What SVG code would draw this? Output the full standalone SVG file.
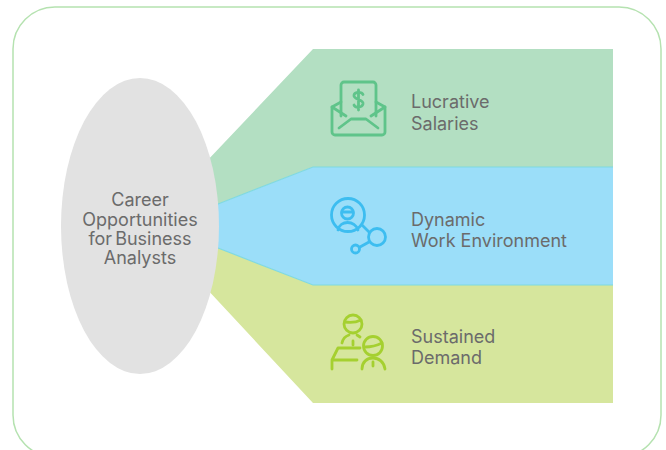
<svg xmlns="http://www.w3.org/2000/svg" width="666" height="450" viewBox="0 0 666 450">
<style>
text{font-family:"Inter","Liberation Sans",sans-serif;font-size:18px;fill:#6b6b6b}
.i{fill:none;stroke-width:2.8;stroke-linecap:round;stroke-linejoin:round}
.g{stroke:#5fc48a}.b{stroke:#3dbdf0}.l{stroke:#a5d030}
</style>
<rect width="666" height="450" fill="#fff"/>
<rect id="frame" x="13" y="7" width="648" height="450" rx="42" fill="#fff" stroke="#b5e2b0" stroke-width="1.5"/>
<g id="connectors">
<polygon points="205,163 313,49 613,49 613,167 313,167 218,204" fill="#b3dfc2"/>
<polygon points="205,287 218,248 313,285 613,285 613,403 313,403" fill="#d6e69d"/>
<polygon points="218,204 313,167 613,167 613,285 313,285 218,248" fill="#9bdef9"/>
<path d="M218 204L313 167H613M218 248L313 285H613" fill="none" stroke="#7fd9e0" stroke-width="1.200"/>
</g>
<g id="center">
<ellipse cx="140" cy="226" rx="79" ry="148" fill="#e2e2e2"/>
<text x="140" y="206" text-anchor="middle">Career</text>
<text x="140" y="225.500" text-anchor="middle">Opportunities</text>
<text x="140" y="244.500" text-anchor="middle" word-spacing="-2">for Business</text>
<text x="140" y="263.500" text-anchor="middle">Analysts</text>
</g>
<g id="salaries">
<g class="i g">
<path d="M341 116V85a3 3 0 0 1 3-3h29a3 3 0 0 1 3 3V116"/>
<path d="M341 102L332 107V132a3 3 0 0 0 3 3h47a3 3 0 0 0 3-3V107L376 102"/>
<path d="M332 107L346 116M385 107L371 116"/>
<path d="M339 128L351 119H366L378 128"/>
<path d="M363 94.500C362 92 355 91 354 95C353 100 364 99 363 104C362 108 355 108 354 105M358.500 90V110"/>
</g>
<text x="411" y="108">Lucrative</text>
<text x="411" y="130">Salaries</text>
</g>
<g id="environment">
<g class="i b">
<circle cx="348" cy="215" r="16.500"/>
<circle cx="347.500" cy="213" r="6"/>
<path d="M342 212H353"/>
<path d="M338 230C340 220 355 220 358 230"/>
<path d="M362 225L369 232"/>
<circle cx="377" cy="237" r="8.500"/>
<path d="M369 242L360 247"/>
<circle cx="355.500" cy="249" r="4"/>
</g>
<text x="411" y="226">Dynamic</text>
<text x="411" y="247">Work Environment</text>
</g>
<g id="demand">
<g class="i l">
<circle cx="353" cy="324" r="9"/>
<path d="M345 322C351 323 357 322 361 320"/>
<path d="M342 343C343 338 346 336 349 335M353 341V345M357 335L360 337"/>
<path d="M360 348H338L332 360V369M332 360H357"/>
<circle cx="373" cy="346" r="9.500"/>
<path d="M365 347C371 347 378 345 382 343"/>
<path d="M362 369C362 362 367 358 373 358C379 358 384 362 385 369M373 362V366"/>
</g>
<text x="411" y="343">Sustained</text>
<text x="411" y="364">Demand</text>
</g>
</svg>
